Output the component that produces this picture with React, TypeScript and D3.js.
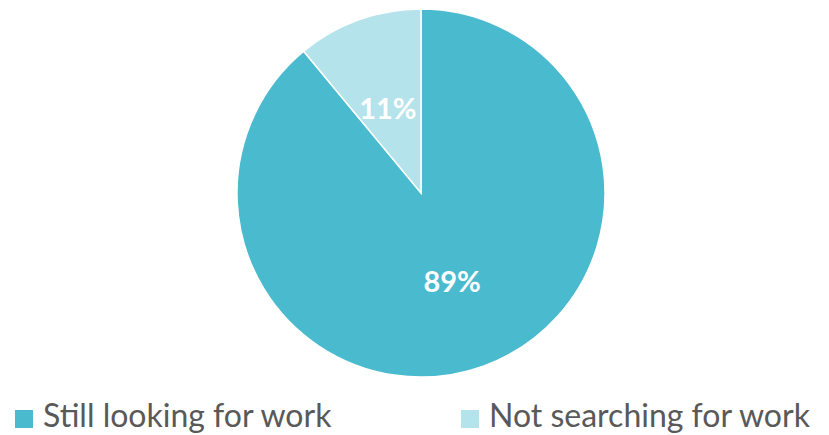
import React from "react";
import * as d3 from "d3";

const categories = ["Still looking for work", "Not searching for work"];
const values = [89, 11];
const colors = ["#4ABACF", "#B4E3EB"];

export default function App() {
  const width = 829;
  const height = 435;
  const cx = 421;
  const cy = 193;
  const r = 184;
  const pie = d3.pie<number>().sort(null).value((d) => d)(values);
  const arc = d3.arc<d3.PieArcDatum<number>>().innerRadius(0).outerRadius(r);
  const legendX = [15, 461];
  return (
    <svg width={width} height={height} style={{ position: "absolute", left: 0, top: 0, fontFamily: "Lato, sans-serif" }}>
      <g transform={`translate(${cx},${cy})`}>
        {pie.map((d, i) => (
          <path key={i} d={arc(d) || ""} fill={colors[i]} stroke="#fff" strokeWidth={1.5} />
        ))}
        {pie.map((d, i) => {
          const [x, y] = arc.centroid(d);
          return (
            <text key={i} x={x - (i === 1 ? 2 : 0)} y={y + 1} textAnchor="middle" dominantBaseline="central" fill="#fff" fontSize={29} fontWeight="bold">
              {values[i]}%
            </text>
          );
        })}
      </g>
      {categories.map((c, i) => (
        <g key={c} transform={`translate(${legendX[i]},0)`}>
          <rect x={0} y={410} width={18} height={18} fill={colors[i]} />
          <text x={28} y={427} fontSize={32} fill="#595959">{c}</text>
        </g>
      ))}
    </svg>
  );
}
